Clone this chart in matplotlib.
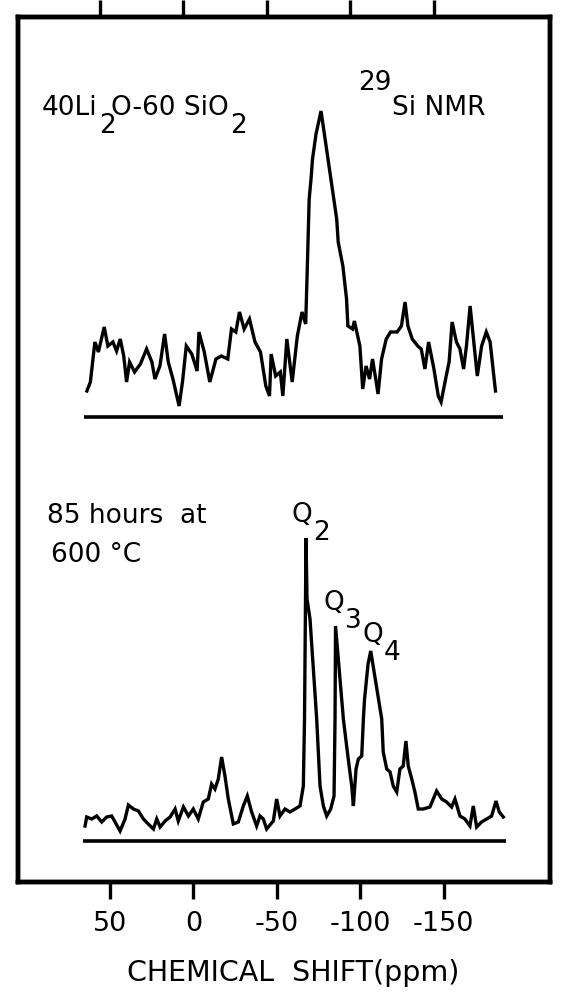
import matplotlib
matplotlib.use("Agg")
import matplotlib.pyplot as plt
from matplotlib.transforms import IdentityTransform

plt.rcParams["font.family"] = "DejaVu Sans"
plt.rcParams["axes.unicode_minus"] = False

# --- Spectra (ppm, intensity above each baseline) ---
glass_ppm = [63.9, 61.8, 59.1, 57.0, 53.5, 51.3, 48.3, 46.1, 43.9, 41.8, 40.1, 38.3,
             35.3, 31.8, 28.1, 24.9, 23.1, 20.1, 17.3, 15.1, 12.3, 8.6, 6.5, 4.3,
             1.0, -2.2, -3.3, -6.5, -9.8, -13.5, -16.7, -20.6, -22.8, -25.4, -27.6,
             -30.4, -33.6, -36.9, -40.2, -43.4, -45.6, -46.6, -49.3, -52.1, -53.6,
             -56.0, -59.2, -62.3, -65.1, -67.3, -68.3, -69.4, -70.5, -71.4, -73.5,
             -76.5, -85.9, -86.8, -89.6, -91.8, -92.6, -95.4, -96.5, -99.8, -101.5,
             -103.5, -105.6, -107.4, -110.7, -112.8, -115.6, -118.2, -122.1, -124.7,
             -126.9, -128.6, -131.2, -134.5, -136.6, -138.8, -141.0, -144.2, -146.8,
             -148.5, -151.2, -153.3, -155.1, -157.7, -159.8, -162.0, -163.7, -165.9,
             -168.1, -170.2, -172.8, -175.6, -177.9, -181.1]
glass_int = [26, 35, 75, 65, 90, 71, 75, 66, 78, 61, 35, 55,
             45, 53, 68, 55, 38, 51, 83, 55, 38, 11, 36, 71,
             63, 46, 85, 65, 35, 58, 61, 58, 88, 85, 105,
             88, 98, 75, 65, 31, 21, 63, 41, 45, 21,
             78, 35, 81, 105, 93, 151, 218, 238, 258, 283,
             306, 198, 175, 151, 118, 91, 88, 96, 71, 28,
             51, 38, 58, 23, 58, 78, 85, 85, 91,
             115, 91, 78, 71, 68, 48, 75, 48, 21,
             15, 38, 55, 95, 75, 68, 48, 71, 111,
             75, 41, 71, 85, 75, 26]

annealed_ppm = [65.0, 64.0, 61.0, 58.0, 55.0, 52.0, 49.0, 47.0, 44.0, 41.0, 39.0, 36.0,
                33.0, 30.0, 27.1, 24.0, 22.0, 20.0, 17.0, 14.0, 11.0, 9.1, 6.0, 3.0,
                0.1, -2.9, -5.9, -8.9, -10.9, -12.9, -14.9, -16.9, -18.9, -20.9, -23.9,
                -26.9, -29.9, -32.3, -34.9, -37.9, -39.9, -41.9, -43.9, -47.9, -49.9,
                -51.9, -54.9, -57.9, -60.9, -63.9, -65.9, -66.6, -67.5, -68.1, -69.9,
                -73.9, -75.9, -77.9, -79.9, -82.3, -84.3, -84.9, -85.2, -89.9, -92.3,
                -94.9, -95.9, -97.5, -98.9, -100.9, -101.9, -102.6, -104.7, -106.3,
                -112.9, -113.8, -115.9, -117.9, -119.8, -121.9, -123.8, -125.8, -127.4,
                -128.8, -130.9, -132.8, -134.8, -137.8, -141.8, -145.8, -148.9, -151.8,
                -154.8, -156.8, -159.8, -162.8, -165.8, -167.8, -169.8, -172.8, -175.8,
                -178.8, -181.4, -183.4, -185.8]
annealed_int = [15, 24, 22, 25, 19, 24, 25, 19, 10, 22, 36, 32,
                30, 22, 17, 12, 22, 14, 20, 24, 32, 20, 34, 25,
                32, 22, 39, 42, 57, 52, 62, 84, 65, 42, 17,
                19, 35, 45, 29, 15, 25, 22, 12, 20, 42,
                25, 32, 29, 32, 35, 55, 122, 303, 242, 222,
                122, 55, 35, 25, 32, 45, 122, 215, 122, 89,
                55, 35, 72, 82, 85, 122, 142, 177, 190,
                122, 89, 72, 69, 55, 49, 72, 75, 100,
                75, 62, 49, 32, 32, 34, 50, 42, 39,
                34, 42, 25, 22, 15, 35, 14, 19, 22,
                25, 40, 29, 24]

tick_values = [50, 0, -50, -100, -150]
tick_labels = ["50", "0", "-50", "-100", "-150"]

# --- Figure ---
fig = plt.figure(figsize=(5.67, 9.95), dpi=100)
ax = fig.add_axes([18 / 567, 1 - 883 / 995, 532 / 567, 865 / 995])
ax.set_xlim(105.2, -213.8)
ax.set_ylim(0, 865)

upper_base = 465
lower_base = 41

ax.plot(glass_ppm, [upper_base + v for v in glass_int], color="black", lw=2.4,
        solid_joinstyle="miter")
ax.plot(annealed_ppm, [lower_base + v for v in annealed_int], color="black", lw=2.4,
        solid_joinstyle="miter")
ax.hlines(upper_base, 65.6, -185.6, color="black", lw=2.6)
ax.hlines(lower_base, 66.2, -187.4, color="black", lw=2.6)

# --- Labels (subscripts drawn full size, dropped below the baseline) ---
fs = 19
renderer = fig.canvas.get_renderer()


def chem_label(x, y, parts, size=fs, drop=18, tuck=4):
    px, py = ax.transData.transform((x, y))
    for s, is_sub in parts:
        t = fig.text(px, py - drop if is_sub else py, s, fontsize=size,
                     va="baseline", ha="left", transform=IdentityTransform())
        bb = t.get_window_extent(renderer)
        px = bb.x1 - tuck if is_sub else bb.x1 + 1


chem_label(90.8, 768, [("40Li", False), ("2", True), ("O-60 SiO", False), ("2", True)])
ax.text(-98.7, 793, "29", fontsize=fs, va="baseline", ha="left")
ax.text(-119.1, 768, "Si NMR", fontsize=fs, va="baseline", ha="left")
ax.text(87.8, 360, "85 hours  at", fontsize=fs, va="baseline", ha="left")
ax.text(85.4, 321, "600 °C", fontsize=fs, va="baseline", ha="left")
chem_label(-58.5, 361, [("Q", False), ("2", True)])
chem_label(-77.7, 273, [("Q", False), ("3", True)])
chem_label(-101.1, 241, [("Q", False), ("4", True)])

for s in ax.spines.values():
    s.set_linewidth(3.2)

ax.set_yticks([])
ax.set_xticks(tick_values)
ax.set_xticklabels(tick_labels)
ax.tick_params(axis="x", direction="out", length=12, width=2.4, pad=8,
               labelsize=19.5)
ax.set_xlabel("CHEMICAL  SHIFT(ppm)", fontsize=20.5, labelpad=16)
ax.xaxis.label.set_x((293 - 18) / 532)

# top ticks sit slightly left of the bottom ones
top = ax.twiny()
top.set_xlim(99.2, -219.8)
top.set_xticks(tick_values)
top.set_xticklabels([])
top.tick_params(axis="x", direction="out", length=12, width=2.4)
for s in top.spines.values():
    s.set_linewidth(3.2)

fig.savefig("out.png", dpi=100)
